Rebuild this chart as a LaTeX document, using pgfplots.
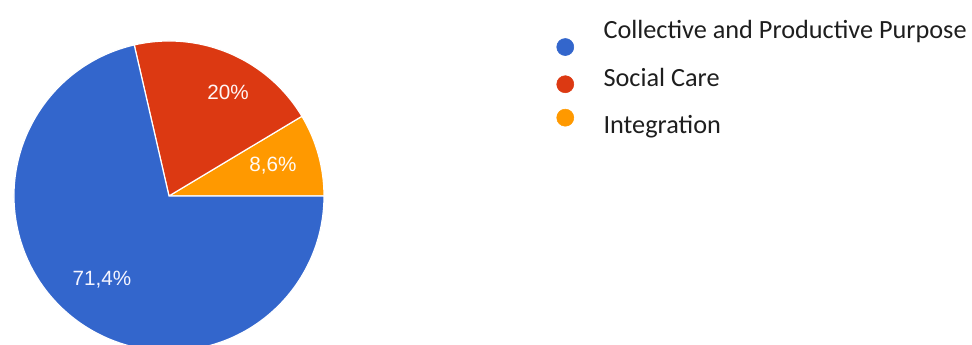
\documentclass[border=0pt]{standalone}
\usepackage{pgfplots}
\pgfplotsset{compat=1.18}
\usepackage{pgfplotstable}
\usepackage{fontspec}
\setmainfont{Carlito}
\newfontfamily\slicefont{Liberation Sans}

\definecolor{pieblue}{HTML}{3366CC}
\definecolor{piered}{HTML}{DC3912}
\definecolor{pieorange}{HTML}{FF9900}
\definecolor{legendtext}{HTML}{1E1E1E}

% shares in percent, drawn counter-clockwise from the east
\pgfplotstableread{
share
8.6
20
71.4
}\piedata

% one pie slice: start angle, end angle, colour (radius 155 units of 0.75pt)
\newcommand{\pieslice}[3]{%
  \fill[#3, draw=white, line width=0.9pt]
    (axis cs:169,149) -- ++(#1:116.25pt)
    arc[start angle=#1, end angle=#2, radius=116.25pt] -- cycle;}

\begin{document}
\begin{tikzpicture}
\pgfplotstablegetelem{0}{share}\of\piedata
\pgfmathsetmacro\angA{\pgfplotsretval*3.6}
\pgfplotstablegetelem{1}{share}\of\piedata
\pgfmathsetmacro\angB{\angA+\pgfplotsretval*3.6}
\begin{axis}[
  x=0.75pt, y=0.75pt,
  xmin=0, xmax=972, ymin=0, ymax=345,
  hide axis, clip=true,
  legend style={
    draw=none, fill=none, inner sep=0pt, outer sep=0pt,
    at={(axis description cs:0.5607,0.9425)}, anchor=north west,
    font=\fontsize{19.7}{22}\selectfont\color{legendtext},
    cells={anchor=west},
    nodes={inner sep=0pt, outer sep=0pt, text height=14pt, text depth=4pt},
    row sep=17.8pt, column sep=0pt,
  },
]
\coordinate (frameSW) at (rel axis cs:0,0);
\coordinate (frameNE) at (rel axis cs:1,1);

\pieslice{0}{\angA}{pieorange}
\pieslice{\angA}{\angB}{piered}
\pieslice{\angB}{360}{pieblue}

\node[font=\slicefont\fontsize{15.5}{18}\selectfont, text=white!96!red] at (axis cs:228,253) {20\%};
\node[font=\slicefont\fontsize{15.5}{18}\selectfont, text=white!96!orange] at (axis cs:273,179) {8,6\%};
\node[font=\slicefont\fontsize{15.5}{18}\selectfont, text=white!96!blue] at (axis cs:102,65) {71,4\%};

\addlegendimage{legend image code/.code={\path (0pt,0pt) (43.5pt,0pt);
  \fill[pieblue, overlay] (15pt,-11.4pt) circle[radius=6.4pt];}}
\addlegendentry{Collective and Productive Purpose}
\addlegendimage{legend image code/.code={\path (0pt,0pt) (43.5pt,0pt);
  \fill[piered, overlay] (15pt,-3.5pt) circle[radius=6.4pt];}}
\addlegendentry{Social Care}
\addlegendimage{legend image code/.code={\path (0pt,0pt) (43.5pt,0pt);
  \fill[pieorange, overlay] (15pt,7.2pt) circle[radius=6.4pt];}}
\addlegendentry{Integration}
\end{axis}
\pgfresetboundingbox
\path[use as bounding box] (frameSW) rectangle (frameNE);
\end{tikzpicture}
\end{document}
